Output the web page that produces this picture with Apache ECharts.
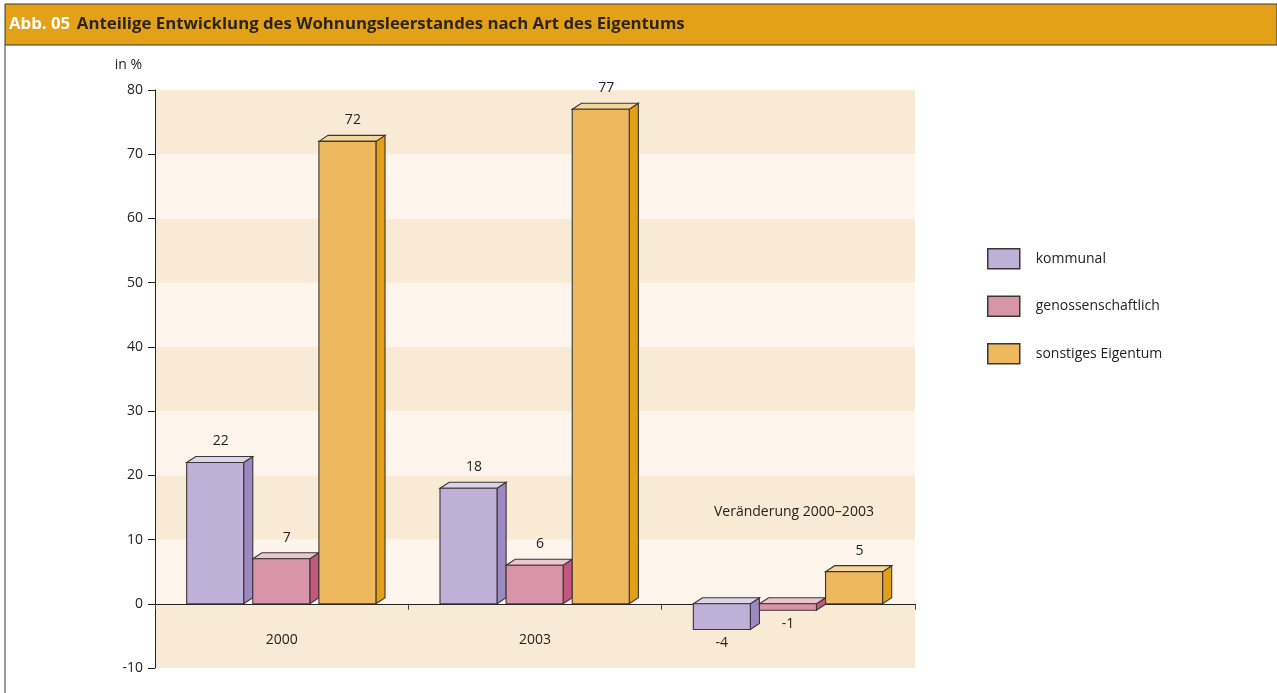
<!DOCTYPE html>
<html>
	<head>
		<meta charset="utf-8">
		<title>Abb. 05 Wohnungsleerstand</title>
		<script src="https://cdn.jsdelivr.net/npm/echarts@6/dist/echarts.min.js"></script>
	</head>
	<body style="margin: 0px;background:#fff;">
		<div id="main" style="width: 1277px;height:693px;"></div>
		<script type="text/javascript">
			var categories = ['2000', '2003', ''];
			var kommunal = [22, 18, -4];
			var genossenschaftlich = [7, 6, -1];
			var sonstiges = [72, 77, 5];
			var seriesNames = ['kommunal', 'genossenschaftlich', 'sonstiges Eigentum'];
			var yTicks = { min: -10, max: 80, interval: 10 };

			// front / side / top colours for each kind of owner
			var faces = [
				{ front: '#BFB0D7', side: '#9D89C1', top: '#DCD4EB' },
				{ front: '#D894A8', side: '#C3587F', top: '#EDC5D1' },
				{ front: '#EDB85E', side: '#E39F16', top: '#F5D59A' }
			];
			var edge = '#3a3636';
			var font = 'Open Sans';

			function box(idx) {
				return function(params, api) {
					var cat = api.value(0);
					var val = api.value(1);
					var band = api.size([1, 0])[0];
					var c = api.coord([cat, 0]);
					var t = api.coord([cat, val]);
					var fw = band * 0.225;
					var dx = band * 0.036;
					var dy = 6;
					var x0 = c[0] - band * 0.375 + idx * (fw + dx);
					var yt = Math.min(c[1], t[1]);
					var yb = Math.max(c[1], t[1]);
					var f = faces[idx];
					var st = { stroke: edge, lineWidth: 1.1 };
					var label;
					if (val >= 0) {
						label = { type: 'text', x: x0 + fw / 2 + dx * 0.6, y: yt - 21,
							style: { text: String(val), fill: '#222', font: '14px "' + font + '"', align: 'center', verticalAlign: 'middle' } };
					} else {
						label = { type: 'text', x: x0 + fw / 2, y: yb + 14,
							style: { text: String(val), fill: '#222', font: '14px "' + font + '"', align: 'center', verticalAlign: 'middle' } };
					}
					return {
						type: 'group',
						children: [
							{ type: 'polygon', shape: { points: [[x0 + fw, yt], [x0 + fw + dx, yt - dy], [x0 + fw + dx, yb - dy], [x0 + fw, yb]] },
								style: Object.assign({ fill: f.side }, st) },
							{ type: 'polygon', shape: { points: [[x0, yt], [x0 + dx, yt - dy], [x0 + fw + dx, yt - dy], [x0 + fw, yt]] },
								style: Object.assign({ fill: f.top }, st) },
							{ type: 'rect', shape: { x: x0, y: yt, width: fw, height: yb - yt },
								style: Object.assign({ fill: f.front }, st) },
							label
						]
					};
				};
			}

			function toData(arr) {
				return arr.map(function(v, i) { return [i, v]; });
			}

			var chart = echarts.init(document.getElementById('main'));
			var option = {
				backgroundColor: '#fff',
				animation: false,
				textStyle: { fontFamily: font },
				grid: { left: 155, right: 362, top: 90, bottom: 25, outerBoundsMode: 'none', containLabel: false },
				graphic: [
					{ type: 'rect', shape: { x: 5, y: 4, width: 1272, height: 41 }, style: { fill: '#E3A117', stroke: '#3a3636', lineWidth: 1 }, z: 0 },
					{ type: 'line', shape: { x1: 5, y1: 45, x2: 5, y2: 693 }, style: { stroke: '#3a3636', lineWidth: 1 } },
					{ type: 'text', left: 9, top: 16, style: { rich: {
						a: { fill: '#fff', fontWeight: 'bold', fontSize: 16.8, fontFamily: font },
						b: { fill: '#2c2418', fontWeight: 'bold', fontSize: 16.8, fontFamily: font }
					}, text: '{a|Abb. 05}  {b|Anteilige Entwicklung des Wohnungsleerstandes nach Art des Eigentums}' } },
					{ type: 'text', left: 714, top: 505, style: { text: 'Veränderung 2000–2003', fill: '#222', fontSize: 14, fontFamily: font }, z: 10 }
				],
				legend: {
					orient: 'vertical',
					left: 987,
					top: 248,
					padding: 0,
					icon: 'rect',
					itemWidth: 32,
					itemHeight: 20,
					itemGap: 26,
					textStyle: { fontSize: 14, color: '#222', padding: [0, 0, 0, 11], fontFamily: font },
					data: seriesNames.map(function(n) {
						return { name: n, itemStyle: { borderColor: edge, borderWidth: 1.5 } };
					})
				},
				xAxis: {
					type: 'category',
					data: categories,
					axisLine: { onZero: true, lineStyle: { color: '#222', width: 1 } },
					axisTick: { show: true, length: 6, lineStyle: { color: '#444' } },
					axisLabel: { margin: -35, fontSize: 14, color: '#222' },
					splitLine: { show: false }
				},
				yAxis: {
					type: 'value',
					min: yTicks.min,
					max: yTicks.max,
					interval: yTicks.interval,
					name: 'in %',
					nameLocation: 'end',
					nameGap: 18,
					nameTextStyle: { fontSize: 14, color: '#222', align: 'right', padding: [0, 13, 0, 0] },
					axisLine: { show: true, lineStyle: { color: '#222', width: 1 } },
					axisTick: { show: true, length: 7, lineStyle: { color: '#222' } },
					axisLabel: { fontSize: 14, color: '#222', margin: 12 },
					splitLine: { show: false },
					splitArea: { show: true, areaStyle: { color: ['#F9EAD6', '#FDF5EC'] } }
				},
				series: [
					{ name: seriesNames[0], type: 'custom', renderItem: box(0), data: toData(kommunal), encode: { x: 0, y: 1 },
						itemStyle: { color: faces[0].front } },
					{ name: seriesNames[1], type: 'custom', renderItem: box(1), data: toData(genossenschaftlich), encode: { x: 0, y: 1 },
						itemStyle: { color: faces[1].front } },
					{ name: seriesNames[2], type: 'custom', renderItem: box(2), data: toData(sonstiges), encode: { x: 0, y: 1 },
						itemStyle: { color: faces[2].front } }
				]
			};
			chart.setOption(option);
		</script>
	</body>
</html>
